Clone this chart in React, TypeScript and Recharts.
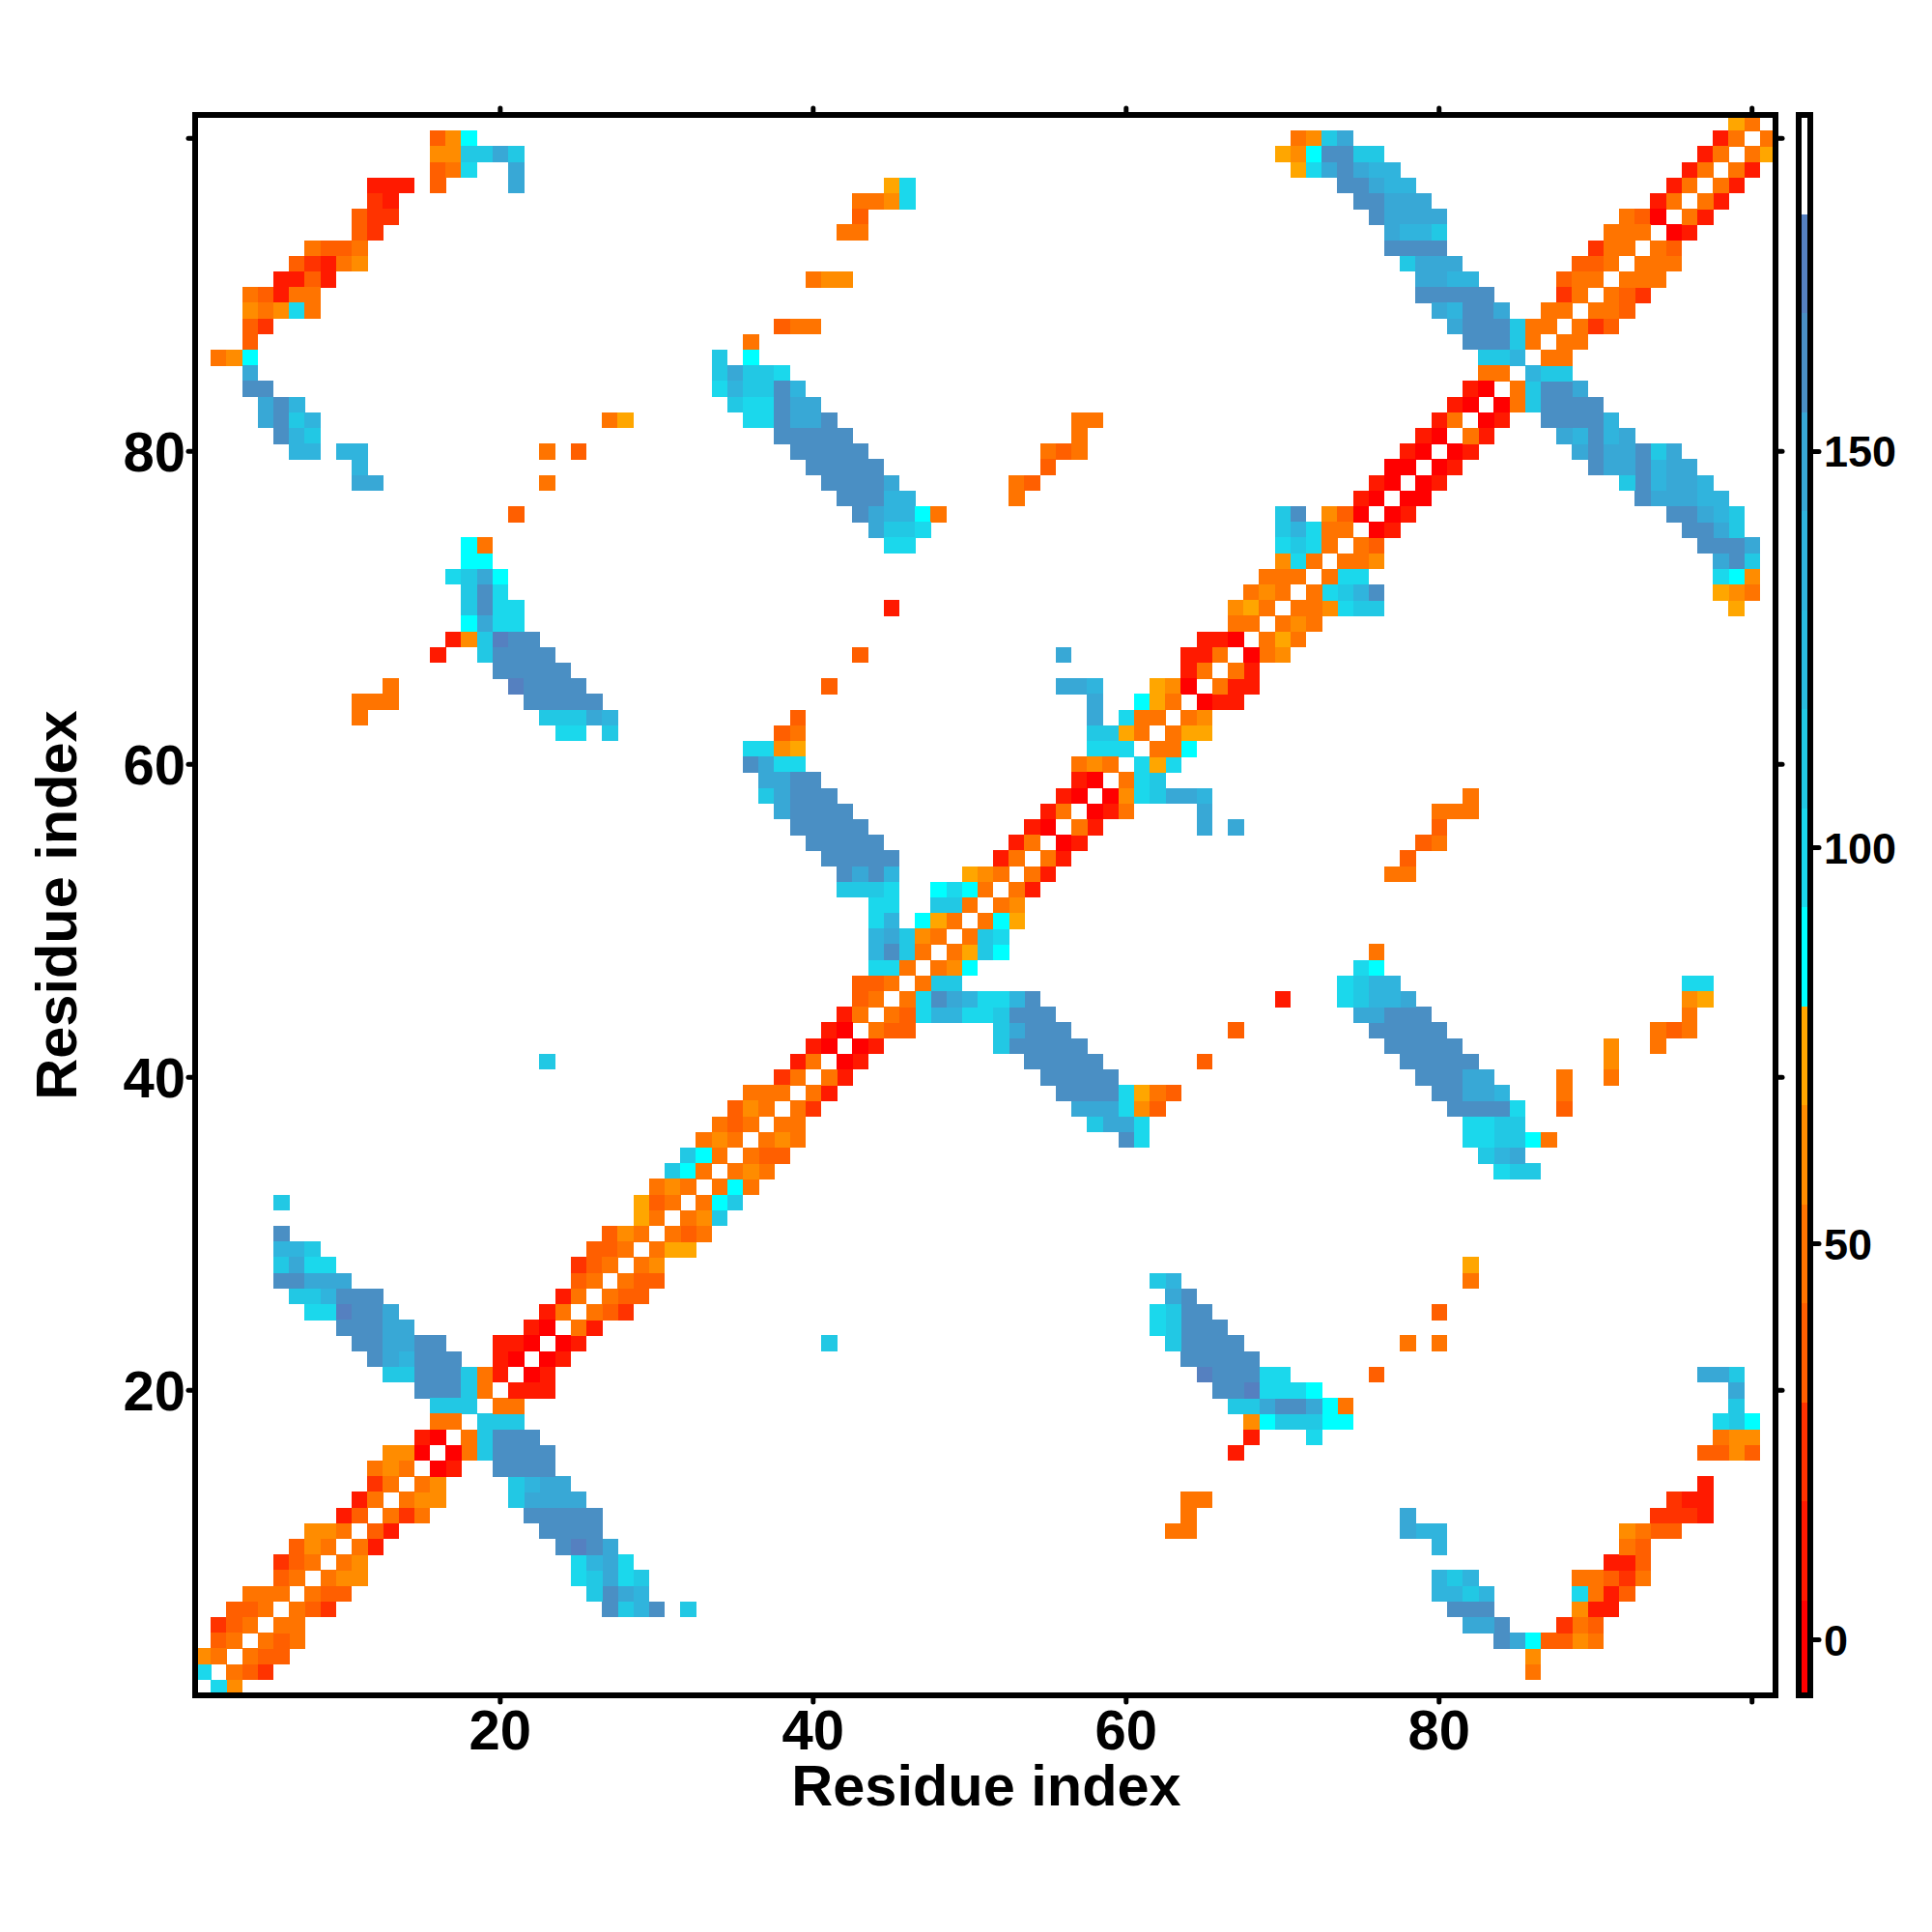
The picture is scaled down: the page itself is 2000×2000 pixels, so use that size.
import React from 'react';
import {
  ScatterChart,
  Scatter,
  XAxis,
  YAxis,
} from 'recharts';

const FONT = '"Liberation Sans", Arial, sans-serif';

const residueTicks = [20, 40, 60, 80, 100];
const labelledTicks = [20, 40, 60, 80];
const colorbarTicks = [0, 50, 100, 150];

// one colour per 12.5 wide band of the colour key, lowest first
const levelBreaks = [-7.5, 5, 17.5, 30, 42.5, 55, 67.5, 80, 92.5, 105, 117.5, 130, 142.5, 155, 167.5, 180, 192.5];
const levelColors = [
  '#ff0000', '#ff1a00', '#ff3300', '#ff5f00', '#ff7400', '#ff8c00', '#ffa600',
  '#00ffff', '#1bd8ec', '#22c8e4', '#2abcdf', '#30b4dd', '#38a8d6', '#4a8fc4', '#5580c0',
  '#ffffff',
];

// [residue i, first residue j, band per j as a hex digit, '.' = no contact]
// the map is symmetric so only the half with i > j is listed
const contactRuns: [number, number, string][] = [
  [101, 99, '64'],
  [100, 16, '357'], [100, 71, '459c'], [100, 98, '14'],
  [99, 16, '5599c9'], [99, 70, '657dd99'], [99, 97, '14'],
  [98, 16, '348'], [98, 21, 'c'], [98, 71, '68cdcbb'], [98, 96, '14'],
  [97, 12, '111'], [97, 16, '3'], [97, 21, 'c'], [97, 45, '68'], [97, 74, 'ddcbb'], [97, 95, '14'],
  [96, 12, '21'], [96, 43, '4458'], [96, 75, 'ddccc'], [96, 94, '14'],
  [95, 11, '322'], [95, 43, '3'], [95, 76, 'dcccc'], [95, 92, '430'],
  [94, 11, '32'], [94, 42, '44'], [94, 77, 'cbb9'], [94, 91, '444'],
  [93, 8, '4334'], [93, 77, 'dddd'], [93, 90, '244'],
  [92, 7, '32145'], [92, 78, '9ccc'], [92, 89, '334'],
  [91, 6, '1131'], [91, 40, '455'], [91, 79, 'ccbb'], [91, 88, '344'],
  [90, 4, '43144'], [90, 79, 'ddddd'], [90, 88, '24'],
  [89, 4, '54584'], [89, 80, 'cbddc'], [89, 87, '44'],
  [88, 4, '32'], [88, 38, '344'], [88, 81, 'cddd9'], [88, 86, '44'],
  [87, 4, '3'], [87, 36, '4'], [87, 82, 'ddd9'], [87, 86, '4'],
  [86, 2, '457'], [86, 34, '9.7'], [86, 83, '99b'],
  [85, 4, 'c'], [85, 34, '9c998'], [85, 83, '44'],
  [84, 4, 'dd'], [84, 34, '8b99db'], [84, 82, '10'],
  [83, 5, 'cdb'], [83, 35, '988dcc'], [83, 81, '10'],
  [82, 5, 'cd9b'], [82, 27, '46'], [82, 36, '88dccd'], [82, 57, '44'], [82, 80, '14'],
  [81, 6, 'db9'], [81, 38, 'ddddd'], [81, 57, '4'], [81, 79, '10'],
  [80, 7, 'bb.bb'], [80, 23, '4.3'], [80, 39, 'ddddd'], [80, 55, '434'], [80, 78, '10'],
  [79, 11, 'b'], [79, 40, 'ddddd'], [79, 55, '3'], [79, 77, '00'],
  [78, 11, 'cc'], [78, 23, '4'], [78, 41, 'ddddc'], [78, 53, '43'], [78, 76, '10'],
  [77, 42, 'dddbb'], [77, 53, '4'], [77, 75, '10'],
  [76, 21, '3'], [76, 43, 'dcbb74'], [76, 70, '9d.530'],
  [75, 44, 'c998'], [75, 70, '9b844'],
  [74, 18, '74'], [74, 45, '88'], [74, 70, '8984'],
  [73, 18, '77'], [73, 70, '584'],
  [72, 17, '89c7'], [72, 69, '444'],
  [71, 18, '9d8'], [71, 68, '454'],
  [70, 18, '9d88'], [70, 45, '1'], [70, 67, '564'],
  [69, 18, '7c88'], [69, 67, '44'],
  [68, 17, '159edd'], [68, 65, '110'],
  [67, 16, '1'], [67, 19, '9dddd'], [67, 43, '3'], [67, 56, 'c'], [67, 64, '114'],
  [66, 20, 'ddddd'], [66, 64, '14'],
  [65, 13, '4'], [65, 21, 'edddd'], [65, 41, '3'], [65, 56, 'ccb'], [65, 62, '650'],
  [64, 11, '444'], [64, 22, 'ddddd'], [64, 58, 'c'], [64, 61, '764'],
  [63, 11, '4'], [63, 23, '999cb'], [63, 39, '3'], [63, 58, 'c'], [63, 60, '844'],
  [62, 24, '88.9'], [62, 38, '34'], [62, 58, '9964'],
  [61, 36, '8856'], [61, 58, '888'],
  [60, 36, 'dc88'], [60, 57, '454'],
  [59, 37, 'ccdd'], [59, 57, '10'],
  [58, 37, '9cddd'], [58, 56, '10'],
  [57, 38, 'cdddd'], [57, 55, '14'],
  [56, 39, 'ddddd'], [56, 54, '10'],
  [55, 40, 'ddddd'], [55, 53, '14'],
  [54, 41, 'ddddd'], [54, 52, '14'],
  [53, 42, 'dcdb'], [53, 50, '654'],
  [52, 42, '9998'], [52, 48, '7874'],
  [51, 44, '88'], [51, 48, '994'],
  [50, 44, '8b'], [50, 47, '764'],
  [49, 44, 'bc954'],
  [48, 44, 'bd94'],
  [47, 44, '884'],
  [46, 43, '334'],
  [45, 43, '34'],
  [44, 42, '14'],
  [43, 41, '10'],
  [42, 40, '10'],
  [41, 23, '9'], [41, 39, '14'],
  [40, 38, '24'],
  [39, 36, '444'],
  [38, 35, '354'],
  [37, 34, '434'],
  [36, 33, '454'],
  [35, 32, '974'],
  [34, 31, '974'],
  [33, 30, '454'],
  [32, 6, '9'], [32, 29, '634'],
  [31, 29, '64'],
  [30, 6, 'd'], [30, 27, '354'],
  [29, 6, 'bb9'], [29, 26, '334'],
  [28, 6, '9c88'], [28, 25, '234'],
  [27, 6, 'ddccc'], [27, 25, '34'],
  [26, 7, '99bddd'], [26, 24, '14'],
  [25, 8, '88eddc'], [25, 23, '14'],
  [24, 10, 'dddcc'], [24, 22, '10'],
  [23, 11, 'ddccdd'], [23, 20, '110'],
  [22, 12, 'dcbddd'], [22, 20, '10'],
  [21, 13, '99ddd94'], [21, 20, '1'],
  [20, 15, 'ddd94'],
  [19, 16, '999'],
  [18, 16, '44'],
  [17, 15, '10'],
  [16, 13, '550'],
  [15, 12, '454'],
  [14, 12, '24'],
  [13, 11, '14'],
  [12, 10, '13'],
  [11, 8, '554'],
  [10, 7, '354'],
  [9, 6, '234'],
  [8, 6, '34'],
  [7, 4, '444'],
  [6, 3, '334'],
  [5, 2, '234'],
  [4, 2, '34'],
  [3, 1, '54'],
  [2, 1, '8'],
];

const contacts = contactRuns.flatMap(([i, first, bands]) =>
  bands.split('').flatMap((ch, k) => {
    if (ch === '.') return [];
    const level = parseInt(ch, 16);
    return [
      { x: first + k, y: i, level },
      { x: i, y: first + k, level },
    ];
  })
);

const keyBands = levelColors.map((_, level) => ({
  x: 0.5,
  y: (levelBreaks[level] + levelBreaks[level + 1]) / 2,
  level,
}));

// invisible points so the frame layer's x axes draw their ticks
const frameAnchors = residueTicks.map((t) => ({ x: t, y: t }));

const PLOT_H = 1636;
const KEY_W = 12;
const RESIDUE_DOMAIN: [number, number] = [0.5, 101.5];
const KEY_DOMAIN: [number, number] = [-7, 192.5];
const CELL = PLOT_H / (RESIDUE_DOMAIN[1] - RESIDUE_DOMAIN[0]);
const BAND_H = (PLOT_H / (KEY_DOMAIN[1] - KEY_DOMAIN[0])) * 12.5;

const CellShape = (props: any) => {
  const { cx, cy, payload } = props;
  return (
    <rect
      x={cx - CELL / 2}
      y={cy - CELL / 2}
      width={CELL + 0.4}
      height={CELL + 0.4}
      fill={levelColors[payload.level]}
      shapeRendering="crispEdges"
    />
  );
};

const BandShape = (props: any) => {
  const { cx, cy, payload } = props;
  return (
    <rect
      x={cx - KEY_W / 2}
      y={cy - BAND_H / 2}
      width={KEY_W}
      height={BAND_H + 0.4}
      fill={levelColors[payload.level]}
      shapeRendering="crispEdges"
    />
  );
};

const NoMark = () => <g />;

const frameLine = { stroke: '#000', strokeWidth: 6, strokeLinecap: 'square' as const };
const tickMark = { stroke: '#000', strokeWidth: 5, strokeLinecap: 'round' as const };
const tickText = { fill: '#000', fontSize: 58, fontWeight: 'bold', fontFamily: FONT };
const titleText = { fill: '#000', fontSize: 59.5, fontWeight: 'bold', fontFamily: FONT };
const showLabelled = (v: number) => (labelledTicks.includes(v) ? String(v) : '');
const layer = { position: 'absolute' as const, top: 0 };

const App = () => (
  <div style={{ position: 'absolute', left: 0, top: 0, width: 2000, height: 2000, background: '#fff' }}>
    {/* the cells, the frame and ticks go on a second layer above them */}
    <div style={{ ...layer, left: 0 }}>
      <ScatterChart
        width={2000}
        height={2000}
        margin={{ top: 119, right: 162, bottom: 245, left: 202 }}
      >
        <XAxis type="number" dataKey="x" domain={RESIDUE_DOMAIN} hide allowDataOverflow />
        <YAxis type="number" dataKey="y" domain={RESIDUE_DOMAIN} hide allowDataOverflow />
        <Scatter data={contacts} shape={CellShape} isAnimationActive={false} />
      </ScatterChart>
    </div>

    <div style={{ ...layer, left: 0 }}>
      <ScatterChart
        width={2000}
        height={2000}
        margin={{ top: 99, right: 142, bottom: 145, left: 0 }}
      >
        <Scatter data={frameAnchors} xAxisId="bottom" yAxisId="left" shape={NoMark} isAnimationActive={false} />
        <Scatter data={frameAnchors} xAxisId="top" yAxisId="right" shape={NoMark} isAnimationActive={false} />
        <XAxis
          xAxisId="bottom"
          type="number"
          dataKey="x"
          domain={RESIDUE_DOMAIN}
          ticks={residueTicks}
          interval={0}
          height={100}
          allowDataOverflow
          axisLine={frameLine}
          tickLine={tickMark}
          tickSize={7}
          tickMargin={8}
          tick={tickText}
          tickFormatter={showLabelled}
          label={{ value: 'Residue index', position: 'insideBottom', offset: -14, dx: 1, style: titleText }}
        />
        <XAxis
          xAxisId="top"
          orientation="top"
          type="number"
          dataKey="x"
          domain={RESIDUE_DOMAIN}
          ticks={residueTicks}
          interval={0}
          height={20}
          allowDataOverflow
          axisLine={frameLine}
          tickLine={tickMark}
          tickSize={7}
          tickFormatter={() => ''}
        />
        <YAxis
          yAxisId="left"
          type="number"
          dataKey="y"
          domain={RESIDUE_DOMAIN}
          ticks={residueTicks}
          interval={0}
          width={202}
          allowDataOverflow
          axisLine={frameLine}
          tickLine={tickMark}
          tickSize={7}
          tickMargin={3}
          tick={tickText}
          tickFormatter={showLabelled}
          label={{ value: 'Residue index', angle: -90, position: 'insideLeft', offset: 58, style: { ...titleText, textAnchor: 'middle' } }}
        />
        <YAxis
          yAxisId="right"
          orientation="right"
          type="number"
          dataKey="y"
          domain={RESIDUE_DOMAIN}
          ticks={residueTicks}
          interval={0}
          width={20}
          allowDataOverflow
          axisLine={frameLine}
          tickLine={tickMark}
          tickSize={7}
          tickFormatter={() => ''}
        />
      </ScatterChart>
    </div>

    {/* colour key */}
    <div style={{ ...layer, left: 1800 }}>
      <ScatterChart
        width={200}
        height={2000}
        margin={{ top: 119, right: 126, bottom: 245, left: 62 }}
      >
        <XAxis type="number" dataKey="x" domain={[0, 1]} hide />
        <YAxis type="number" dataKey="y" domain={KEY_DOMAIN} hide allowDataOverflow />
        <Scatter data={keyBands} shape={BandShape} isAnimationActive={false} />
      </ScatterChart>
    </div>

    <div style={{ ...layer, left: 1800 }}>
      <ScatterChart
        width={200}
        height={2000}
        margin={{ top: 109, right: 0, bottom: 235, left: 52 }}
      >
        <XAxis xAxisId="k" type="number" domain={[0, 1]} ticks={[]} height={10} axisLine={frameLine} tickLine={false} />
        <XAxis xAxisId="kTop" orientation="top" type="number" domain={[0, 1]} ticks={[]} height={10} axisLine={frameLine} tickLine={false} />
        <YAxis yAxisId="kLeft" type="number" domain={KEY_DOMAIN} ticks={[]} width={10} allowDataOverflow axisLine={frameLine} tickLine={false} />
        <YAxis
          yAxisId="kRight"
          orientation="right"
          type="number"
          domain={KEY_DOMAIN}
          ticks={colorbarTicks}
          interval={0}
          width={126}
          allowDataOverflow
          axisLine={frameLine}
          tickLine={tickMark}
          tickSize={9}
          tickMargin={5}
          tick={{ ...tickText, fontSize: 45 }}
        />
      </ScatterChart>
    </div>
  </div>
);

export default App;
